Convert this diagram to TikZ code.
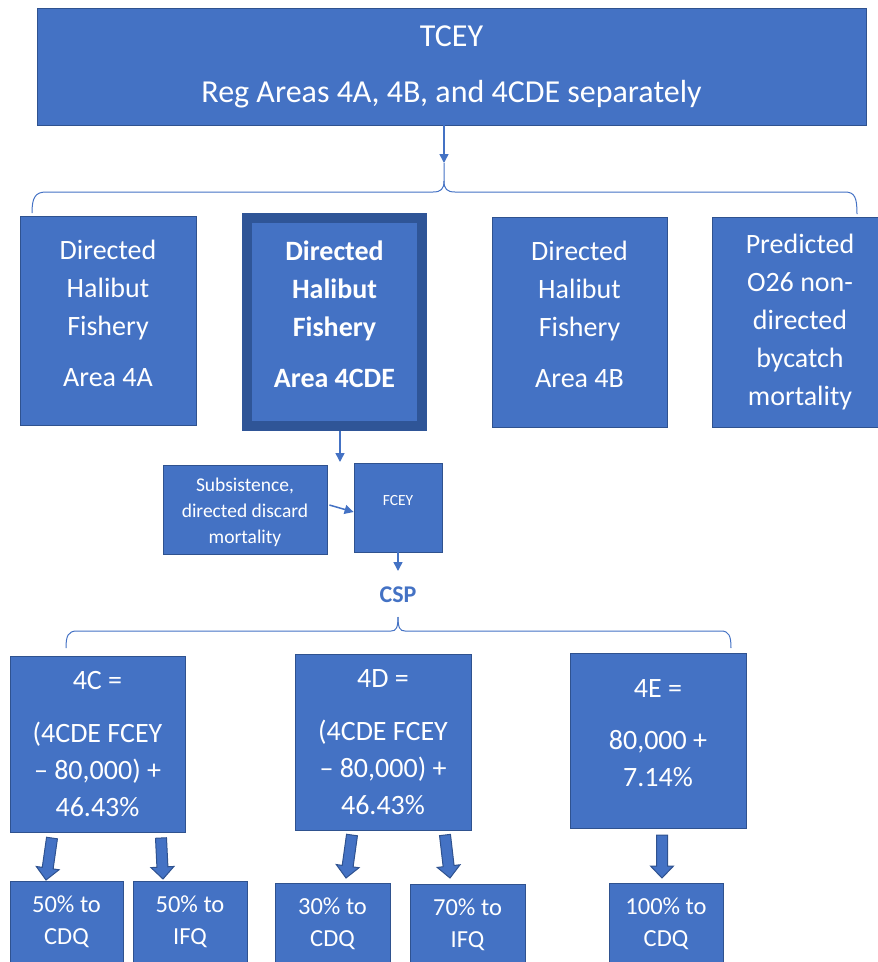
\documentclass[tikz,border=0pt]{standalone}
\usepackage{fontspec}
\setmainfont{Carlito}
\usetikzlibrary{calc,arrows.meta}
\definecolor{pblue}{HTML}{4472C4}
\definecolor{pedge}{HTML}{2F528F}
\definecolor{pdark}{HTML}{2F5597}
\tikzset{
 box/.style={draw=pedge, fill=pblue, line width=0.8pt, text=white, align=center, inner sep=0pt},
 boxtext/.style={text=white, align=center, inner sep=0pt},
 huge/.style={font=\fontsize{32}{40}\selectfont},
 big/.style={font=\fontsize{28}{38}\selectfont},
 mid/.style={font=\fontsize{28}{37}\selectfont},
 small/.style={font=\fontsize{24.5}{32}\selectfont},
 conn/.style={draw=pblue, line width=1.5pt, -{Triangle[length=9pt,width=9pt]}},
 bracel/.style={draw=pblue, line width=1pt},
 barrow/.style={draw=pedge, fill=pblue, line width=1pt, line join=miter},
}
\newcommand\blockarr[2]{%
 \draw[barrow] ($(#1)!5.5pt!90:(#2)$) -- ($(#2)!12pt!(#1)!5.5pt!90:(#2)$) -- ($(#2)!12pt!(#1)!11.5pt!90:(#2)$) -- (#2) -- ($(#2)!12pt!(#1)!11.5pt!-90:(#2)$) -- ($(#2)!12pt!(#1)!5.5pt!-90:(#2)$) -- ($(#1)!5.5pt!-90:(#2)$) -- cycle;}
\begin{document}
\begin{tikzpicture}[x=1pt,y=-1pt]
\useasboundingbox (0,0) rectangle (878,962);
\clip (0,0) rectangle (878,962);
% top
\node[box,huge,minimum width=829pt,minimum height=117pt] (top) at (451.5,66.5) {TCEY\\[16pt]Reg Areas 4A, 4B, and 4CDE separately};
% row 2
\node[box,minimum width=176pt,minimum height=209pt] (a4A) at (108,320.5) {};
\node[boxtext,big] (a4At) at ([yshift=7pt]a4A.center) {Directed\\Halibut\\Fishery\\[13pt]Area 4A};
\node[box,draw=pdark,line width=10pt,minimum width=175pt,minimum height=208pt] (a4CDE) at (334.5,322) {};
\node[boxtext,font=\fontsize{28}{38}\selectfont\bfseries] (a4CDEt) at ([yshift=8pt]a4CDE.center) {Directed\\Halibut\\Fishery\\[13pt]Area 4CDE};
\node[box,minimum width=175pt,minimum height=210pt] (a4B) at (579.5,322) {};
\node[boxtext,big] (a4Bt) at ([yshift=8pt]a4B.center) {Directed\\Halibut\\Fishery\\[13pt]Area 4B};
\node[box,big,minimum width=176pt,minimum height=210pt] (pred) at (800,322) {Predicted\\O26 non-\\directed\\bycatch\\mortality};
% brace 1
\coordinate (t1) at (444,163);
\draw[conn] (top.south -| t1) -- (t1);
\draw[bracel] (32,213) .. controls (32,198) and (35,192) .. (46,192) -- (433,192) .. controls (441,192) and (444,189) .. (444,181) -- (t1);
\draw[bracel] (444,181) .. controls (444,189) and (447,192) .. (455,192) -- (845,192) .. controls (855,192) and (857,198) .. (857,214);
% middle
\node[box,minimum width=164pt,minimum height=89pt] (sub) at (245,509.5) {};
\node[boxtext,font=\fontsize{19.5}{26}\selectfont] (subt) at ([yshift=-2.5pt]sub.center) {Subsistence,\\directed discard\\mortality};
\node[box,minimum width=88pt,minimum height=89pt] (fcey) at (398,507.5) {};
\node[boxtext,font=\fontsize{15.5}{20}\selectfont] (fceyt) at ([yshift=7pt]fcey.center) {FCEY};
\node[text=pblue,font=\fontsize{24}{28}\selectfont\bfseries,inner sep=0pt] (csp) at (398,595) {CSP};
\coordinate (c1) at (340,462);
\draw[conn] (a4CDE.south -| c1) -- (c1);
\draw[conn] ([shift={(2pt,4.5pt)}]sub.east) -- ([yshift=-4.5pt]fcey.west);
\coordinate (c2) at (398,571);
\draw[conn] (fcey.south) -- (c2);
% brace 2
\draw[bracel] (66,648) .. controls (66,636) and (68,631) .. (77,631) -- (391,631) .. controls (396,631) and (398,628) .. (398,617);
\draw[bracel] (398,617) .. controls (398,628) and (400,631) .. (405,631) -- (721,631) .. controls (729,631) and (731,636) .. (731,648);
% bottom row
\node[box,mid,minimum width=175pt,minimum height=176pt] (b4C) at (97.5,744) {4C =\\[16pt](4CDE FCEY\\– 80,000) +\\46.43\%};
\node[box,mid,minimum width=176pt,minimum height=176pt] (b4D) at (383,742) {4D =\\[16pt](4CDE FCEY\\– 80,000) +\\46.43\%};
\node[box,minimum width=176pt,minimum height=175pt] (b4E) at (658,740.5) {};
\node[boxtext,mid] (b4Et) at ([yshift=7pt]b4E.center) {4E =\\[15pt]80,000 +\\7.14\%};
\node[box,small,minimum width=113pt,minimum height=82pt] (cdq1) at (66.5,922) {50\% to\\CDQ};
\node[box,small,minimum width=114pt,minimum height=82pt] (ifq1) at (190,922) {50\% to\\IFQ};
\node[box,small,minimum width=115pt,minimum height=82pt] (cdq2) at (332.5,924) {30\% to\\CDQ};
\node[box,small,minimum width=115pt,minimum height=82pt] (ifq2) at (467.5,925) {70\% to\\IFQ};
\node[box,small,minimum width=114pt,minimum height=82pt] (cdq3) at (666,924) {100\% to\\CDQ};
% block arrows
\coordinate (s1) at (52,838); \coordinate (e1) at (46,880);
\coordinate (s2) at (161,838); \coordinate (e2) at (163,879);
\coordinate (s3) at (352,835); \coordinate (e3) at (346,878);
\coordinate (s4) at (445,835); \coordinate (e4) at (450,878);
\coordinate (s5) at (662,835); \coordinate (e5) at (662,878);
\blockarr{s1}{e1}
\blockarr{s2}{e2}
\blockarr{s3}{e3}
\blockarr{s4}{e4}
\blockarr{s5}{e5}
\end{tikzpicture}
\end{document}
